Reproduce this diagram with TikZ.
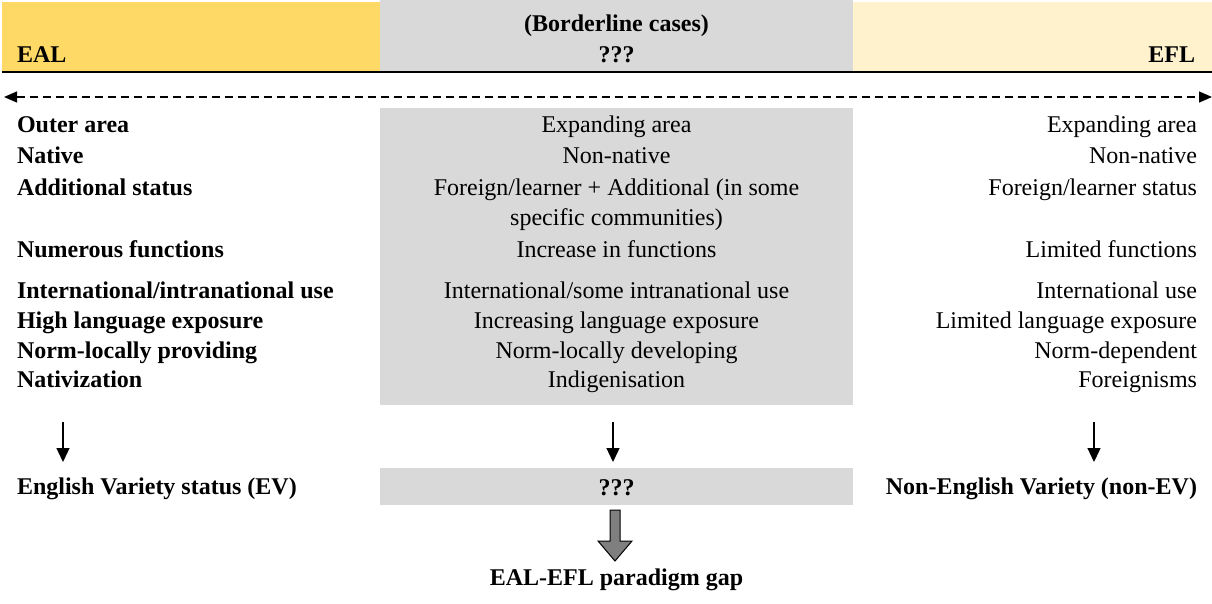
\documentclass[tikz,border=0pt]{standalone}
\usepackage{fontspec}
\setmainfont{Liberation Serif}
\usetikzlibrary{arrows.meta}
\definecolor{ealgold}{HTML}{FFD966}
\definecolor{midgrey}{HTML}{D9D9D9}
\definecolor{eflcream}{HTML}{FFF2CC}
\definecolor{gaparrow}{HTML}{7F7F7F}
\newcommand\rowsize{\fontsize{24}{30}\selectfont}
\begin{document}
\begin{tikzpicture}[x=1pt,y=-1pt,
  cell/.style={inner sep=0pt, outer sep=0pt, font=\rowsize},
  eal/.style={cell, anchor=base west, font=\rowsize\bfseries},
  mid/.style={cell, anchor=base},
  efl/.style={cell, anchor=base east},
  midbold/.style={cell, anchor=base, font=\rowsize\bfseries},
  eflbold/.style={cell, anchor=base east, font=\rowsize\bfseries},
  downarrow/.style={line width=1.3pt, -{Triangle[length=14pt,width=13pt]}},
  spanarrow/.style={line width=1.3pt, dash pattern=on 8pt off 5pt,
    {Triangle[length=13pt,width=11pt]}-{Triangle[length=13pt,width=11pt]}}]
\useasboundingbox (0,0) rectangle (1212,603);

% header bands
\fill[ealgold] (2,1.5) rectangle (380,71);
\fill[midgrey] (380,0) rectangle (853,71);
\fill[eflcream] (853,1.5) rectangle (1212,71);
\draw[line width=2.2pt] (2,72) -- (1212,72);

\node[eal] (hEAL) at (17,62) {EAL};
\node[midbold] (hBorder) at (616.5,31) {(Borderline cases)};
\node[midbold] (hQ) at (616.5,62) {???};
\node[eflbold] (hEFL) at (1195,62) {EFL};

% continuum between the two poles
\coordinate (spanL) at (4,97);
\coordinate (spanR) at (1212,97);
\draw[spanarrow] (spanL) -- (spanR);

% shaded middle column
\fill[midgrey] (380,108) rectangle (853,405);

% EAL column
\node[eal] (l1) at (17,132) {Outer area};
\node[eal] (l2) at (17,163) {Native};
\node[eal] (l3) at (17,195) {Additional status};
\node[eal] (l4) at (17,257) {Numerous functions};
\node[eal] (l5) at (17,298) {International/intranational use};
\node[eal] (l6) at (17,328) {High language exposure};
\node[eal] (l7) at (17,358) {Norm-locally providing};
\node[eal] (l8) at (17,387) {Nativization};

% borderline column
\node[mid] (m1) at (616.5,132) {Expanding area};
\node[mid] (m2) at (616.5,163) {Non-native};
\node[mid] (m3) at (616.5,195) {Foreign/learner + Additional (in some};
\node[mid] (m3b) at (616.5,225) {specific communities)};
\node[mid] (m4) at (616.5,257) {Increase in functions};
\node[mid] (m5) at (616.5,298) {International/some intranational use};
\node[mid] (m6) at (616.5,328) {Increasing language exposure};
\node[mid] (m7) at (616.5,358) {Norm-locally developing};
\node[mid] (m8) at (616.5,387) {Indigenisation};

% EFL column
\node[efl] (r1) at (1197,132) {Expanding area};
\node[efl] (r2) at (1197,163) {Non-native};
\node[efl] (r3) at (1197,195) {Foreign/learner status};
\node[efl] (r4) at (1197,257) {Limited functions};
\node[efl] (r5) at (1197,298) {International use};
\node[efl] (r6) at (1197,328) {Limited language exposure};
\node[efl] (r7) at (1197,358) {Norm-dependent};
\node[efl] (r8) at (1197,387) {Foreignisms};

% outcomes
\fill[midgrey] (380,468) rectangle (853,505);
\node[eal] (evL) at (17,494) {English Variety status (EV)};
\node[midbold] (evM) at (616.5,495) {???};
\node[eflbold] (evR) at (1197,494) {Non-English Variety (non-EV)};

\coordinate (dL1) at (63,422);  \coordinate (dL2) at (63,462);
\coordinate (dM1) at (613,422); \coordinate (dM2) at (613,462);
\coordinate (dR1) at (1094,422); \coordinate (dR2) at (1094,462);
\draw[downarrow] (dL1) -- (dL2);
\draw[downarrow] (dM1) -- (dM2);
\draw[downarrow] (dR1) -- (dR2);

% block arrow to the conclusion
\draw[fill=gaparrow, line width=1pt]
  (610,510) -- (620,510) -- (620,541) -- (632,541) -- (615,561)
  -- (598,541) -- (610,541) -- cycle;

\node[midbold] (gap) at (616.5,585) {EAL-EFL paradigm gap};
\end{tikzpicture}
\end{document}
